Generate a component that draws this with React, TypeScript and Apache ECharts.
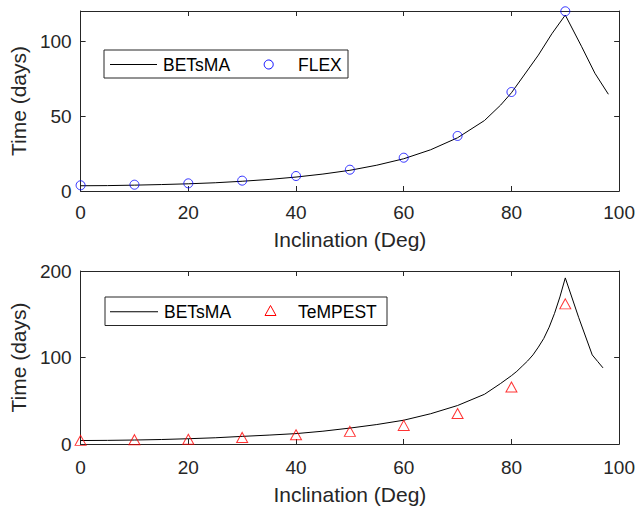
import React, { useEffect, useRef } from "react";
import * as echarts from "echarts";

const xLineTop = [0, 5, 10, 15, 20, 25, 30, 35, 40, 45, 50, 55, 60, 65, 70, 75, 78, 80, 82.5, 85, 87.5, 90, 93, 95.5, 98];
const betsmaTop = [3.5, 3.6, 3.9, 4.3, 4.8, 5.5, 6.5, 7.7, 9.3, 11.3, 13.8, 17.2, 21.5, 27.5, 35.5, 47, 57.3, 65.5, 78, 90.6, 104.8, 117.3, 96.5, 78.5, 64.5];

const xLineBottom = [0, 5, 10, 15, 20, 25, 30, 35, 40, 45, 50, 55, 60, 65, 70, 75, 78, 80, 81, 82, 83, 84, 85, 86, 87, 88, 89, 90, 92.5, 95, 96, 97];
const betsmaBottom = [4, 4.2, 4.6, 5.2, 6.1, 7.2, 8.8, 10.3, 12, 14.8, 18.4, 22.5, 27.5, 35, 44.5, 57.5, 70, 79, 84, 90, 96, 103, 112, 122, 135, 151, 170, 192, 146, 103, 95.5, 88];

const xMarks = [0, 10, 20, 30, 40, 50, 60, 70, 80, 90];
const flexValues = [3.8, 4.2, 5.1, 6.9, 10, 14.2, 22.2, 36.7, 66, 119.8];
const tempestValues = [4.2, 5, 5.4, 7.6, 10.7, 14.6, 21.5, 35.3, 65.8, 162];

const xTicks = { min: 0, max: 100, interval: 20 };
const topY = { min: 0, max: 120, interval: 50 };
const bottomY = { min: 0, max: 200, interval: 100 };

const legendTopNames = ["BETsMA", "FLEX"];
const legendBottomNames = ["BETsMA", "TeMPEST"];

const zip = (xs: number[], ys: number[]) => xs.map((x, i) => [x, ys[i]]);

const AXIS_COLOR = "#262626";
const FONT = "'Liberation Sans', Arial, Helvetica, sans-serif";

function xAxes(gridIndex: number, nameGap: number, labelMargin: number) {
  return [
    {
      gridIndex,
      type: "value",
      position: "bottom",
      ...xTicks,
      axisLine: { show: true, onZero: false, lineStyle: { color: AXIS_COLOR, width: 1 } },
      axisTick: { show: true, inside: true, length: 5, lineStyle: { color: AXIS_COLOR, width: 1 } },
      axisLabel: { fontSize: 19, color: AXIS_COLOR, margin: labelMargin, fontFamily: FONT },
      splitLine: { show: false },
      name: "Inclination (Deg)",
      nameLocation: "middle",
      nameGap,
      nameTextStyle: { fontSize: 21, color: AXIS_COLOR, fontFamily: FONT },
    },
    {
      gridIndex,
      type: "value",
      position: "top",
      ...xTicks,
      axisLine: { show: true, onZero: false, lineStyle: { color: AXIS_COLOR, width: 1 } },
      axisTick: { show: true, inside: true, length: 5, lineStyle: { color: AXIS_COLOR, width: 1 } },
      axisLabel: { show: false },
      splitLine: { show: false },
    },
  ];
}

function yAxes(gridIndex: number, range: { min: number; max: number; interval: number }) {
  return [
    {
      gridIndex,
      type: "value",
      position: "left",
      ...range,
      axisLine: { show: true, onZero: false, lineStyle: { color: AXIS_COLOR, width: 1 } },
      axisTick: { show: true, inside: true, length: 5, lineStyle: { color: AXIS_COLOR, width: 1 } },
      axisLabel: {
        fontSize: 19,
        color: AXIS_COLOR,
        margin: 9,
        fontFamily: FONT,
        formatter: (v: number) => (v % range.interval === 0 ? String(v) : ""),
      },
      splitLine: { show: false },
      name: "Time (days)",
      nameLocation: "middle",
      nameGap: 43,
      nameRotate: 90,
      nameTextStyle: { fontSize: 21, color: AXIS_COLOR, fontFamily: FONT },
    },
    {
      gridIndex,
      type: "value",
      position: "right",
      ...range,
      axisLine: { show: true, onZero: false, lineStyle: { color: AXIS_COLOR, width: 1 } },
      axisTick: { show: true, inside: true, length: 5, lineStyle: { color: AXIS_COLOR, width: 1 } },
      axisLabel: { show: false },
      splitLine: { show: false },
    },
  ];
}

function legendBox(
  x: number,
  y: number,
  w: number,
  h: number,
  names: string[],
  marker: any,
  lineX0: number,
  lineX1: number,
  text1X: number,
  text2X: number
) {
  const cy = y + h / 2;
  const textStyle = { fontSize: 17.5, fill: "#000", fontFamily: FONT, verticalAlign: "middle" };
  return {
    type: "group",
    children: [
      {
        type: "rect",
        shape: { x, y, width: w, height: h },
        style: { fill: "#fff", stroke: AXIS_COLOR, lineWidth: 1 },
        z: 10,
      },
      {
        type: "line",
        shape: { x1: lineX0, y1: cy + 0.5, x2: lineX1, y2: cy + 0.5 },
        style: { stroke: "#000", lineWidth: 1 },
        z: 11,
      },
      { type: "text", x: text1X, y: cy + 1, style: { ...textStyle, text: names[0] }, z: 11 },
      { ...marker, z: 11 },
      { type: "text", x: text2X, y: cy + 1, style: { ...textStyle, text: names[1] }, z: 11 },
    ],
  };
}

export default function App() {
  const ref = useRef<HTMLDivElement>(null);

  useEffect(() => {
    document.body.style.margin = "0";
    if (!ref.current) return;
    const chart = echarts.init(ref.current, undefined, { renderer: "svg" });

    chart.setOption({
      animation: false,
      backgroundColor: "#ffffff",
      grid: [
        { left: 78, top: 11, width: 542, height: 180, containLabel: false },
        { left: 78, top: 271, width: 542, height: 173, containLabel: false },
      ],
      xAxis: [...xAxes(0, 38, 12), ...xAxes(1, 40, 14)],
      yAxis: [...yAxes(0, topY), ...yAxes(1, bottomY)],
      graphic: [
        legendBox(
          104, 50, 244, 28, legendTopNames,
          {
            type: "circle",
            shape: { cx: 268.7, cy: 64.5, r: 4.5 },
            style: { fill: "none", stroke: "#0000ff", lineWidth: 1 },
          },
          110, 157, 163, 298
        ),
        legendBox(
          105, 297, 282, 28.5, legendBottomNames,
          {
            type: "polygon",
            shape: { points: [[265, 315.5], [276, 315.5], [270.5, 305.5]] },
            style: { fill: "none", stroke: "#ff0000", lineWidth: 1 },
          },
          110, 158, 164, 298
        ),
      ],
      series: [
        {
          name: "BETsMA",
          type: "line",
          xAxisIndex: 0,
          yAxisIndex: 0,
          data: zip(xLineTop, betsmaTop),
          symbol: "none",
          lineStyle: { color: "#000", width: 1 },
          itemStyle: { color: "#000" },
          z: 2,
        },
        {
          name: "FLEX",
          type: "scatter",
          xAxisIndex: 0,
          yAxisIndex: 0,
          data: zip(xMarks, flexValues),
          symbol: "circle",
          symbolSize: 9,
          clip: false,
          itemStyle: { color: "transparent", borderColor: "#0000ff", borderWidth: 1 },
          z: 3,
        },
        {
          name: "BETsMA",
          type: "line",
          xAxisIndex: 2,
          yAxisIndex: 2,
          data: zip(xLineBottom, betsmaBottom),
          symbol: "none",
          lineStyle: { color: "#000", width: 1 },
          itemStyle: { color: "#000" },
          z: 2,
        },
        {
          name: "TeMPEST",
          type: "scatter",
          xAxisIndex: 2,
          yAxisIndex: 2,
          data: zip(xMarks, tempestValues),
          symbol: "triangle",
          symbolSize: [11, 10],
          clip: false,
          itemStyle: { color: "transparent", borderColor: "#ff0000", borderWidth: 1 },
          z: 3,
        },
      ],
    });

    return () => chart.dispose();
  }, []);

  return (
    <div
      ref={ref}
      style={{ position: "absolute", left: 0, top: 0, width: 638, height: 509 }}
    />
  );
}
